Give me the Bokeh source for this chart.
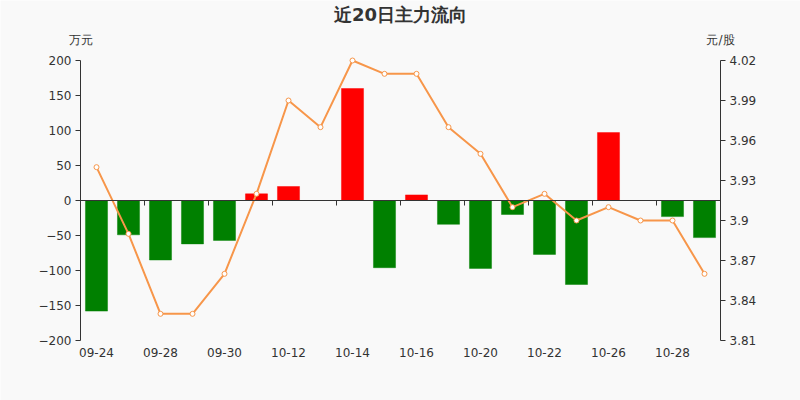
from bokeh.plotting import figure
from bokeh.models import (LinearAxis, Range1d, FixedTicker, CustomJSTickFormatter,
                          Label, ColumnDataSource)
from bokeh.embed import file_html
from bokeh.resources import INLINE

# ---- data ----
dates = ["09-24", "09-25", "09-28", "09-29", "09-30", "10-09", "10-12", "10-13",
         "10-14", "10-15", "10-16", "10-19", "10-20", "10-21", "10-22", "10-23",
         "10-26", "10-27", "10-28", "10-29"]
flow = [-158, -49, -85, -62, -57, 9.5, 20, 0, 160, -96, 8, -34, -97, -20, -77,
        -120, 97, 0, -23, -53]
price = [3.94, 3.89, 3.83, 3.83, 3.86, 3.92, 3.99, 3.97, 4.02, 4.01, 4.01, 3.97,
         3.95, 3.91, 3.92, 3.90, 3.91, 3.90, 3.90, 3.86]
flow_ticks = [-200, -150, -100, -50, 0, 50, 100, 150, 200]
price_ticks = [3.81, 3.84, 3.87, 3.90, 3.93, 3.96, 3.99, 4.02]
title_text = "近20日主力流向"
left_unit = "万元"
right_unit = "元/股"

# ---- styles / layout ----
BG = "#f9f9f9"
TXT = "#333333"
ORANGE = "#f7964a"
FONT = "DejaVu Sans"
W, H = 800, 400
PAD_L, PAD_R, PAD_T, PAD_B = 80, 80, 60, 60

n = len(dates)
xs = list(range(n))
colors = ["#ff0000" if v > 0 else "#008000" for v in flow]
src = ColumnDataSource(dict(x=xs, flow=flow, price=price, color=colors))

# frame covers whole canvas; ranges padded so the plot area sits where the axes are
x0, x1 = -0.5, n - 0.5
xpx = (W - PAD_L - PAD_R) / (x1 - x0)
f0, f1 = flow_ticks[0], flow_ticks[-1]
fpx = (H - PAD_T - PAD_B) / (f1 - f0)
p0, p1 = price_ticks[0], price_ticks[-1]
ppx = (H - PAD_T - PAD_B) / (p1 - p0)

p = figure(width=W, height=H,
           x_range=Range1d(x0 - PAD_L / xpx, x1 + PAD_R / xpx),
           y_range=Range1d(f0 - PAD_B / fpx, f1 + PAD_T / fpx),
           output_backend="svg", toolbar_location=None,
           min_border=0, min_border_left=0, min_border_right=0,
           min_border_top=0, min_border_bottom=0)
p.title.visible = False
p.background_fill_color = BG
p.border_fill_color = BG
p.outline_line_color = None
p.xgrid.visible = False
p.ygrid.visible = False
p.extra_y_ranges = {"price": Range1d(p0 - PAD_B / ppx, p1 + PAD_T / ppx)}

# bottom label axis
xa = p.xaxis[0]
xa.fixed_location = f0
xa.bounds = (x0, x1)
xa.ticker = FixedTicker(ticks=xs[::2])
xa.major_label_overrides = {i: dates[i] for i in xs[::2]}
xa.axis_line_color = None
xa.major_tick_line_color = None
xa.major_tick_out = 0
xa.major_tick_in = 0
xa.major_label_standoff = 7
xa.major_label_text_font_size = "12px"
xa.major_label_text_color = TXT
xa.major_label_text_font = FONT

# zero-line axis with boundary ticks
zaxis = LinearAxis(fixed_location=0, bounds=(x0, x1),
                   ticker=FixedTicker(ticks=[], minor_ticks=[i + 1.5 for i in range(0, n - 2, 2)]),
                   axis_line_color=TXT, axis_line_width=1,
                   major_tick_line_color=None,
                   minor_tick_line_color=TXT, minor_tick_in=0, minor_tick_out=5,
                   major_label_text_font_size="0px")
p.add_layout(zaxis, "below")

# left axis
ya = p.yaxis[0]
ya.fixed_location = x0
ya.bounds = (f0, f1)
ya.ticker = FixedTicker(ticks=flow_ticks)
ya.axis_line_color = TXT
ya.major_tick_line_color = TXT
ya.major_tick_out = 5
ya.major_tick_in = 0
ya.minor_tick_line_color = None
ya.major_label_standoff = 4
ya.major_label_text_font_size = "12px"
ya.major_label_text_color = TXT
ya.major_label_text_font = FONT

# right axis
ra = LinearAxis(y_range_name="price", fixed_location=x1, bounds=(p0, p1),
                ticker=FixedTicker(ticks=price_ticks),
                formatter=CustomJSTickFormatter(code="return String(parseFloat(tick.toFixed(2)));"),
                axis_line_color=TXT, major_tick_line_color=TXT, major_tick_out=5,
                major_tick_in=0, minor_tick_line_color=None, major_label_standoff=4,
                major_label_text_font_size="12px", major_label_text_color=TXT,
                major_label_text_font=FONT)
p.add_layout(ra, "right")

# bars
p.vbar(x="x", top="flow", bottom=0, width=0.69, fill_color="color",
       line_color="color", line_alpha=0.45, line_width=1, source=src)

# price line
p.line(x="x", y="price", y_range_name="price", line_color=ORANGE, line_width=2, source=src)
p.scatter(x="x", y="price", y_range_name="price", size=5, fill_color="white",
          line_color=ORANGE, line_width=1, source=src)

# texts
p.add_layout(Label(x=(x0 + x1) / 2, y=f1, y_offset=46, text=title_text,
                   text_align="center", text_baseline="middle", text_font_size="18px",
                   text_font_style="bold", text_color=TXT, text_font=FONT))
p.add_layout(Label(x=x0, y=f1, y_offset=21, text=left_unit,
                   text_align="center", text_baseline="middle", text_font_size="12px",
                   text_color=TXT, text_font=FONT))
p.add_layout(Label(x=x1, y=f1, y_offset=21, text=right_unit,
                   text_align="center", text_baseline="middle", text_font_size="12px",
                   text_color=TXT, text_font=FONT))

html = file_html(p, INLINE)
html = html.replace("<body>", '<body style="background:%s">' % BG, 1)
open("out.html", "w").write(html)
